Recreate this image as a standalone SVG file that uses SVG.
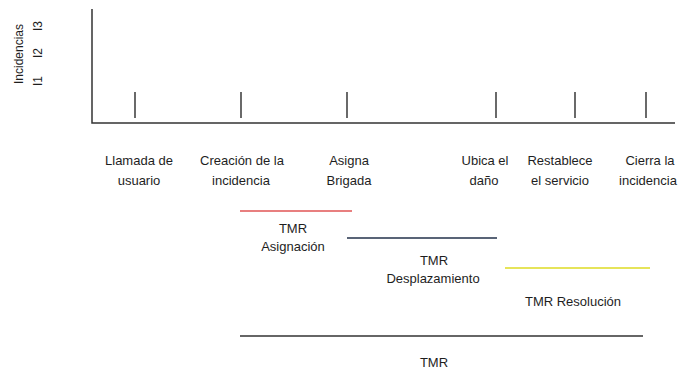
<svg xmlns="http://www.w3.org/2000/svg" width="685" height="375" viewBox="0 0 685 375">
<style>
text{font-family:"Liberation Sans",Arial,sans-serif;font-size:13px;fill:#1e1e1e;text-anchor:middle}
.ax{stroke:#333;stroke-width:1.5;fill:none}
.tick{stroke:#444;stroke-width:1.6}
.yl{font-size:12px}
</style>
<rect width="685" height="375" fill="#fff"/>
<g id="axes">
<path class="ax" d="M92,9 V123 H675"/>
<text class="yl" transform="translate(23,54) rotate(-90)">Incidencias</text>
<text class="yl" transform="translate(42,81) rotate(-90)">I1</text>
<text class="yl" transform="translate(42,53) rotate(-90)">I2</text>
<text class="yl" transform="translate(42,26) rotate(-90)">I3</text>
</g>
<g id="ticks">
<line class="tick" x1="135" y1="92" x2="135" y2="118"/>
<line class="tick" x1="241" y1="92" x2="241" y2="118"/>
<line class="tick" x1="347" y1="92" x2="347" y2="118"/>
<line class="tick" x1="496" y1="92" x2="496" y2="118"/>
<line class="tick" x1="575" y1="92" x2="575" y2="118"/>
<line class="tick" x1="646" y1="92" x2="646" y2="118"/>
</g>
<g id="e1"><text x="139" y="165">Llamada de</text><text x="139" y="185">usuario</text></g>
<g id="e2"><text x="242" y="165">Creación de la</text><text x="241" y="185">incidencia</text></g>
<g id="e3"><text x="349" y="165">Asigna</text><text x="349" y="185">Brigada</text></g>
<g id="e4"><text x="485" y="165">Ubica el</text><text x="484" y="185">daño</text></g>
<g id="e5"><text x="560" y="165">Restablece</text><text x="560" y="185">el servicio</text></g>
<g id="e6"><text x="650" y="165">Cierra la</text><text x="648" y="185">incidencia</text></g>
<g id="connectors">
<line x1="240" y1="211" x2="352" y2="211" stroke="#e05555" stroke-width="1.5"/>
<line x1="347" y1="238" x2="497" y2="238" stroke="#22304a" stroke-width="1.5"/>
<line x1="505" y1="268" x2="650" y2="268" stroke="#e6e45a" stroke-width="1.8"/>
<line x1="240" y1="336" x2="643" y2="336" stroke="#333" stroke-width="1.5"/>
</g>
<g id="tmr-asig"><text x="293" y="233">TMR</text><text x="293" y="251">Asignación</text></g>
<g id="tmr-desp"><text x="434" y="265">TMR</text><text x="433" y="283">Desplazamiento</text></g>
<g id="tmr-res"><text x="573" y="306">TMR Resolución</text></g>
<g id="tmr"><text x="434" y="367">TMR</text></g>
</svg>
